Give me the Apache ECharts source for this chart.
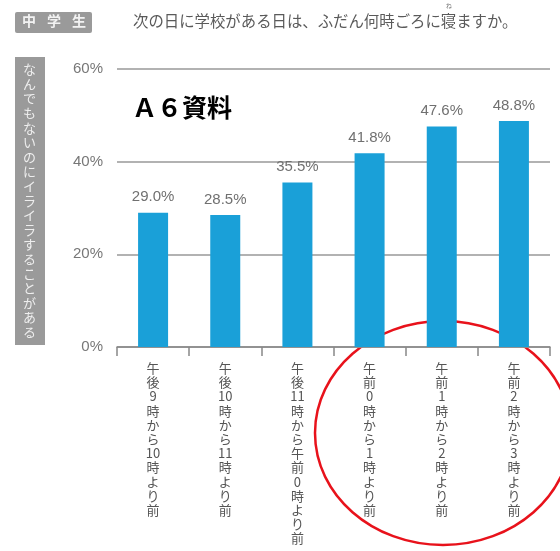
<!DOCTYPE html>
<html><head><meta charset="utf-8">
<script src="https://cdn.jsdelivr.net/npm/echarts@6/dist/echarts.min.js"></script>
<style>html,body{margin:0;padding:0;background:#fff}#c{width:560px;height:551px}</style>
</head><body><div id="c"></div>
<script>
const categories = [
  ['午','後','9','時','か','ら','10','時','よ','り','前'],
  ['午','後','10','時','か','ら','11','時','よ','り','前'],
  ['午','後','11','時','か','ら','午','前','0','時','よ','り','前'],
  ['午','前','0','時','か','ら','1','時','よ','り','前'],
  ['午','前','1','時','か','ら','2','時','よ','り','前'],
  ['午','前','2','時','か','ら','3','時','よ','り','前']
];
const values = [29.0, 28.5, 35.5, 41.8, 47.6, 48.8];
const yTicks = [0, 20, 40, 60];
const title = '次の日に学校がある日は、ふだん何時ごろに寝ますか。';
const sideText = 'なんでもないのにイライラすることがある';
const badge = ['中', '学', '生'];

const font = '"Noto Sans CJK JP", "Noto Sans", sans-serif';
const chart = echarts.init(document.getElementById('c'));
chart.setOption({
  animation: false,
  grid: {left: 117, right: 10, top: 69, bottom: 204},
  xAxis: {
    type: 'category',
    data: categories.map(c => c.join('\n')),
    axisLine: {lineStyle: {color: '#888', width: 1.5}},
    axisTick: {show: true, length: 9, lineStyle: {color: '#888', width: 1.5}},
    axisLabel: {color: '#555', fontSize: 13, lineHeight: 14.2, margin: 14, fontFamily: font, interval: 0, verticalAlign: 'top'}
  },
  yAxis: {
    type: 'value', min: yTicks[0], max: yTicks[yTicks.length - 1], interval: 20,
    axisLine: {show: false}, axisTick: {show: false},
    axisLabel: {color: '#777', fontSize: 15, margin: 14, formatter: v => v + '%', fontFamily: 'Liberation Sans, sans-serif'},
    splitLine: {lineStyle: {color: '#999', width: 1.5}}
  },
  series: [{
    type: 'bar', data: values, barWidth: 30,
    itemStyle: {color: '#1aa0d8'},
    label: {show: true, position: 'top', distance: 8, color: '#707070', fontSize: 15, formatter: p => p.value.toFixed(1) + '%', fontFamily: 'Liberation Sans, sans-serif'}
  }],
  graphic: [
    {type: 'rect', shape: {x: 15, y: 12, width: 77, height: 21, r: 2}, style: {fill: '#9a9a9a'}},
    ...badge.map((ch, i) => ({type: 'text', left: 22 + i * 25, top: 14, style: {text: ch, fill: '#f2f2f2', font: 'bold 14px ' + font}})),
    {type: 'text', left: 133, top: 13, style: {text: title, fill: '#5a5a5a', font: '15.4px ' + font}},
    {type: 'text', left: 446, top: 3, style: {text: 'ね', fill: '#777', font: '6px ' + font}},
    {type: 'rect', shape: {x: 15, y: 57, width: 30, height: 288}, style: {fill: '#9a9a9a'}},
    {type: 'text', left: 23, top: 62, style: {text: sideText.split('').join('\n'), fill: '#eee', font: '13px ' + font, lineHeight: 14.6}},
    {type: 'text', left: 132, top: 95, style: {text: 'Ａ６資料', fill: '#000', font: 'bold 25px ' + font}},
    {type: 'ellipse', shape: {cx: 443, cy: 433, rx: 128, ry: 112}, style: {fill: 'none', stroke: '#e8121b', lineWidth: 2.5}}
  ]
});
</script></body></html>
